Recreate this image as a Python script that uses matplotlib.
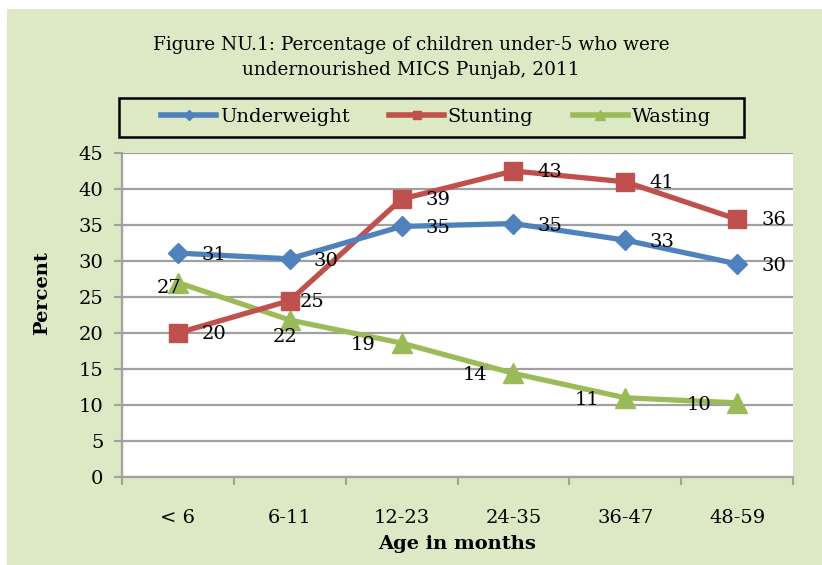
import numpy as np
from matplotlib import pyplot as plt
from matplotlib.patches import Rectangle
from matplotlib.lines import Line2D

# data
ages = ['< 6', '6-11', '12-23', '24-35', '36-47', '48-59']
underweight = [31.1, 30.3, 34.8, 35.2, 32.9, 29.6]
stunting = [20.0, 24.5, 38.6, 42.5, 41.0, 35.8]
wasting = [27.0, 21.8, 18.6, 14.4, 11.0, 10.3]
uw_labels = ['31', '30', '35', '35', '33', '30']
st_labels = ['20', '25', '39', '43', '41', '36']
wa_labels = ['27', '22', '19', '14', '11', '10']

W, H = 822, 565
plt.rcParams['font.family'] = ['DejaVu Serif']

fig = plt.figure(figsize=(W/100, H/100), dpi=100)
fig.patch.set_facecolor('white')
# green chart area
fig.patches.append(Rectangle((7/W, 0), 1, 1 - 9/H, transform=fig.transFigure,
                             facecolor='#dce9c4', edgecolor='none', zorder=-5))

ax = fig.add_axes([122/W, (H-477)/H, 671/W, (477-153)/H])
ax.set_facecolor('white')

blue, red, green = '#4f81bd', '#c0504d', '#9bbb59'
x = np.arange(len(ages))
ax.plot(x, underweight, color=blue, lw=3.8, marker='D', ms=10, zorder=4)
ax.plot(x, stunting, color=red, lw=3.8, marker='s', ms=13, zorder=3)
ax.plot(x, wasting, color=green, lw=3.8, marker='^', ms=14.5, zorder=2)

fs = 14
for i in range(len(ages)):
    # right side labels
    dx = 10 if i == 1 else 24
    ax.annotate(uw_labels[i], (x[i], underweight[i]), xytext=(24, -2),
                textcoords='offset pixels', ha='left', va='center', fontsize=fs, zorder=6)
    ax.annotate(st_labels[i], (x[i], stunting[i]), xytext=(dx, -1),
                textcoords='offset pixels', ha='left', va='center', fontsize=fs, zorder=6)
    # left side labels for wasting
    if i == 0:
        off = (4, -5)
    elif i == 1:
        off = (8, -17)
    else:
        off = (-26, -2)
    ax.annotate(wa_labels[i], (x[i], wasting[i]), xytext=off,
                textcoords='offset pixels', ha='right', va='center', fontsize=fs, zorder=6)

ax.set_xlim(-0.5, len(ages) - 0.5)
ax.set_ylim(0, 45)
ax.set_yticks(np.arange(0, 46, 5))
ax.yaxis.grid(True, color='#a0a0a0', lw=1.6)
ax.set_axisbelow(True)

ax.set_xticks(np.arange(-0.5, len(ages), 1))
ax.set_xticklabels([])
ax.set_xticks(x, minor=True)
ax.set_xticklabels(ages, minor=True, fontsize=fs)
ax.tick_params(axis='x', which='major', length=6, width=1.5, color='#a0a0a0', direction='out')
ax.tick_params(axis='x', which='minor', length=0, pad=23)
ax.tick_params(axis='y', length=6, width=1.5, color='#a0a0a0', labelsize=fs, pad=7.5)

for s in ['top', 'right']:
    ax.spines[s].set_visible(False)
for s in ['left', 'bottom']:
    ax.spines[s].set_color('#a0a0a0')
    ax.spines[s].set_linewidth(1.6)

ax.set_ylabel('Percent', fontsize=fs, fontweight='bold')
ax.yaxis.set_label_coords(-(122 - 51) / 671, (477 - 293) / 324)
ax.set_xlabel('Age in months', fontsize=fs, fontweight='bold')
ax.xaxis.set_label_coords(0.5, -(535 - 477) / 324)

fig.text(0.5, 1 - 45/H, 'Figure NU.1: Percentage of children under-5 who were',
         ha='center', va='center', fontsize=13.3)
fig.text(0.5, 1 - 70/H, 'undernourished MICS Punjab, 2011',
         ha='center', va='center', fontsize=13.3)

# legend box
fig.patches.append(Rectangle((119/W, 1 - 137/H), (744 - 119)/W, (137 - 98)/H,
                             transform=fig.transFigure, facecolor='none',
                             edgecolor='black', lw=1.8, zorder=5))
handles = [Line2D([], [], color=blue, lw=4, marker='D', ms=5),
           Line2D([], [], color=red, lw=4, marker='s', ms=6),
           Line2D([], [], color=green, lw=4, marker='^', ms=7)]
fig.legend(handles, ['Underweight', 'Stunting', 'Wasting'], ncol=3,
           loc='center', bbox_to_anchor=(436/W, 1 - 117/H), frameon=False,
           fontsize=fs, handlelength=2.8, handletextpad=0.2, columnspacing=2.05)

fig.savefig('out.png', dpi=100)
